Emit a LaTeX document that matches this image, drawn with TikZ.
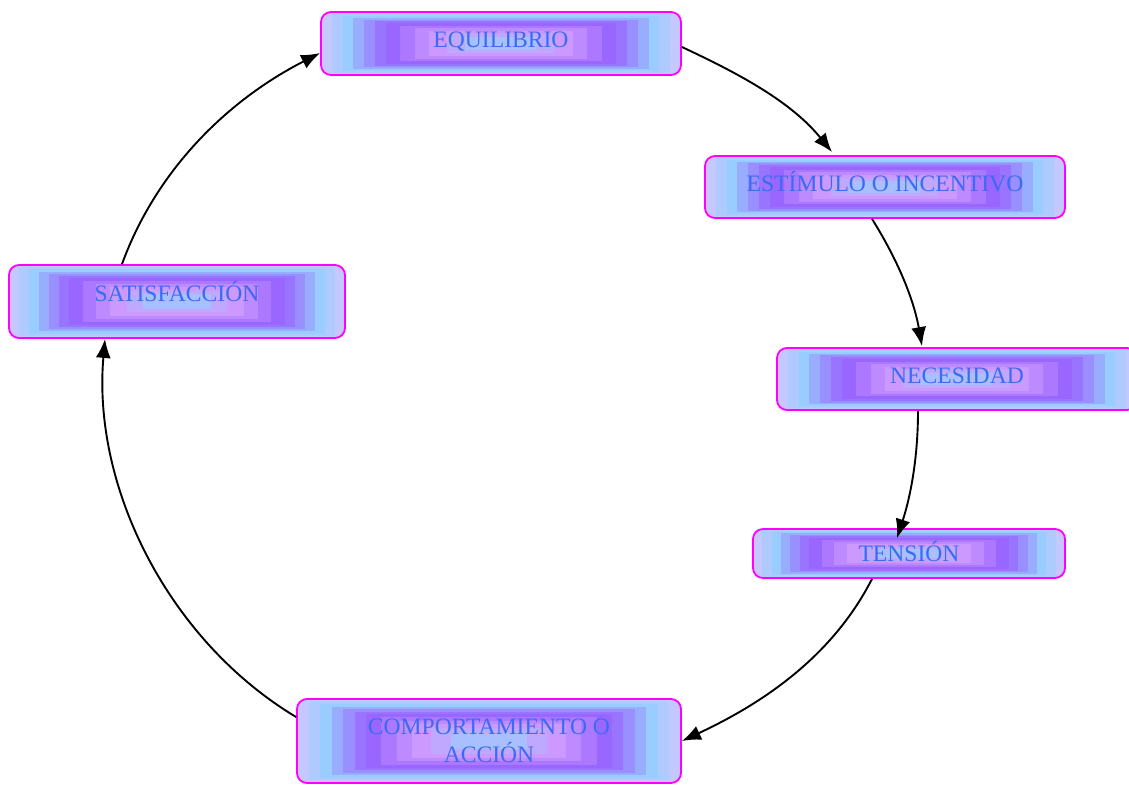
\documentclass[tikz,border=0pt]{standalone}
\usepackage{fontspec}
\setmainfont{Liberation Serif}
\usepackage{tikz}
\usetikzlibrary{arrows.meta, calc}
\definecolor{boxedge}{HTML}{FF00FF}
\definecolor{boxtext}{HTML}{3A6BF5}
\definecolor{shadelav}{HTML}{C4C8FF}
\definecolor{shadeblue}{HTML}{99CCFF}
\definecolor{shadepurp}{HTML}{9966FF}
\definecolor{shadepink}{HTML}{CC99FF}
\definecolor{shadecen}{HTML}{A8C0FF}

\begin{document}
\begin{tikzpicture}[
  x=1pt, y=1pt,
  every node/.style={font=\fontsize{23.6}{28}\selectfont},
  stage/.style={rectangle, rounded corners=10pt, draw=boxedge, line width=1.8pt,
    text=boxtext, align=center, inner sep=0pt, text height=16pt, text depth=9pt,
    path picture={
      \foreach \f/\c in {0/shadelav, 0.06/shadelav!50!shadeblue, 0.12/shadeblue,
        0.18/shadeblue!70!shadepurp, 0.24/shadeblue!40!shadepurp, 0.30/shadeblue!15!shadepurp,
        0.36/shadepurp, 0.44/shadepurp!65!shadepink, 0.52/shadepurp!30!shadepink,
        0.60/shadepink, 0.70/shadepink!60!shadecen, 0.80/shadecen}
        \fill[fill=\c, sharp corners] ($(path picture bounding box.north west)!\f!(path picture bounding box.center)$)
          rectangle ($(path picture bounding box.south east)!\f!(path picture bounding box.center)$);
    }},
  arrow/.style={-{Latex[length=19pt, width=15pt]}, line width=1.9pt, black, looseness=0.9}
]
\useasboundingbox (0,0) rectangle (1129,-785);

% === Cycle stages ===
\node[stage, minimum width=360pt, minimum height=63pt] (equilibrio) at (501,-43.5) {EQUILIBRIO};
\node[stage, minimum width=360pt, minimum height=62pt, text depth=8pt] (estimulo) at (885,-187) {ESTÍMULO O INCENTIVO};
\node[stage, minimum width=360pt, minimum height=62pt, text depth=8pt] (necesidad) at (957,-379) {NECESIDAD};
\node[stage, minimum width=312pt, minimum height=49pt, text depth=0pt] (tension) at (909,-553.5) {TENSIÓN};
\node[stage, minimum width=384pt, minimum height=84pt, text height=, text depth=] (comportamiento) at (489,-741) {COMPORTAMIENTO O\\ACCIÓN};
\node[stage, minimum width=336pt, minimum height=73pt, text depth=17pt] (satisfaccion) at (177,-301.5) {SATISFACCIÓN};

% === Arrows round the circle ===
\draw[arrow] ([yshift=-3.5pt]equilibrio.east) to[out=-25, in=129] ([xshift=-53pt, yshift=3pt]estimulo.north);
\draw[arrow] ([xshift=-13pt]estimulo.south) to[out=-58, in=100] ([xshift=-35pt, yshift=1pt]necesidad.north);
\draw[arrow] ([xshift=-39pt]necesidad.south) to[out=-90, in=72] ([xshift=-12pt, yshift=-10pt]tension.north);
\draw[arrow] ([xshift=-37pt]tension.south) to[out=-117, in=25] (comportamiento.east);
\draw[arrow] ([yshift=24pt]comportamiento.west) to[out=149, in=-95] ([xshift=-72pt]satisfaccion.south);
\draw[arrow] ([xshift=-55pt]satisfaccion.north) to[out=70, in=207] ([yshift=-9.5pt]equilibrio.west);

\end{tikzpicture}
\end{document}
